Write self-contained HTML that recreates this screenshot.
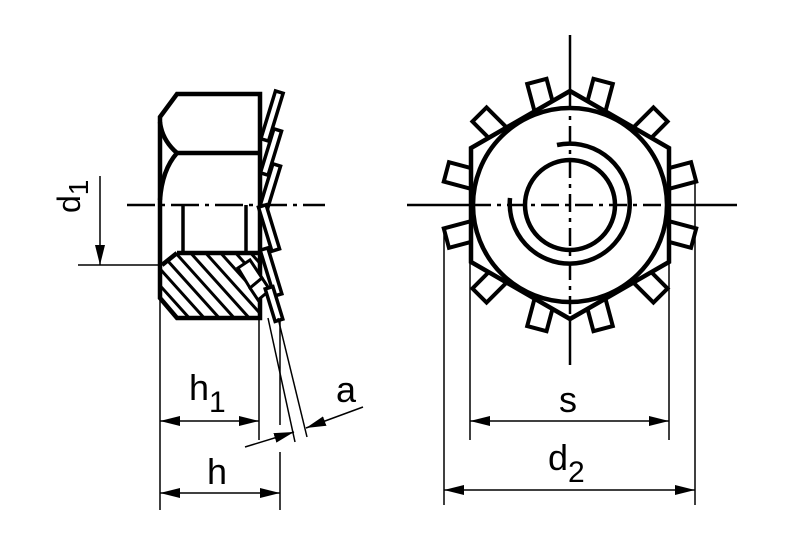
<!DOCTYPE html>
<html><head><meta charset="utf-8"><style>
html,body{margin:0;padding:0;background:#fff;}
svg{display:block;}
text{font-family:"Liberation Sans",sans-serif;fill:#000;}
</style></head><body>
<svg width="791" height="533" viewBox="0 0 791 533" xmlns="http://www.w3.org/2000/svg">
<defs>
<marker id="ar" markerWidth="20" markerHeight="10" refX="20" refY="5" orient="auto" markerUnits="userSpaceOnUse">
<path d="M0,0 L20,5 L0,10 Z" fill="#000"/></marker>
<clipPath id="sec"><path d="M177,253 L255,253 L260,258 L260,318 L177,318 L160,300 L160,265 Z"/></clipPath>
</defs>

<!-- LEFT VIEW -->
<g fill="none" stroke="#000" stroke-width="4.5" stroke-linejoin="miter">
<path d="M160,117 L177,94 L260,94 L260,318 L177,318 L160,298 Z"/>
<line x1="177" y1="153" x2="260" y2="153"/>
<path d="M160,122 Q162,140 177,153"/>
<path d="M177,153 Q162,170 160,200"/>
<line x1="177" y1="253" x2="258" y2="253"/>
<line x1="177" y1="253" x2="162" y2="265"/>
</g>
<g stroke="#000" stroke-width="3.5">
<line x1="183" y1="205" x2="183" y2="253"/>
<line x1="246" y1="205" x2="246" y2="253"/>
</g>
<g clip-path="url(#sec)" stroke="#000" stroke-width="3">
<line x1="140" y1="230" x2="230" y2="330"/>
<line x1="155" y1="230" x2="245" y2="330"/>
<line x1="170" y1="230" x2="260" y2="330"/>
<line x1="185" y1="230" x2="275" y2="330"/>
<line x1="200" y1="230" x2="290" y2="330"/>
<line x1="215" y1="230" x2="305" y2="330"/>
<line x1="230" y1="230" x2="320" y2="330"/>
<line x1="125" y1="230" x2="215" y2="330"/>
<line x1="110" y1="230" x2="200" y2="330"/>
</g>
<g fill="#fff" stroke="#000" stroke-width="3">
<polygon points="238,268 250,260 262,278 250,288"/>
<polygon points="250,288 262,278 270,290 258,300"/>
</g>
<g fill="#fff" stroke="#000" stroke-width="3.5">
<rect x="-4" y="-25" width="8" height="50" transform="translate(272,116) rotate(17)"/>
<rect x="-4" y="-23" width="8" height="46" transform="translate(271,152) rotate(17)"/>
<rect x="-4" y="-23" width="8" height="46" transform="translate(270,187) rotate(17)"/>
<rect x="-4" y="-23" width="8" height="46" transform="translate(269,228) rotate(-17)"/>
<rect x="-4" y="-24" width="8" height="48" transform="translate(271,272) rotate(-17)"/>
<rect x="-4" y="-17" width="8" height="34" transform="translate(274,304) rotate(-17)"/>
</g>
<line x1="127" y1="205" x2="325" y2="205" stroke="#000" stroke-width="2.5" stroke-dasharray="28,6,4,6"/>
<g stroke="#000" stroke-width="1.5">
<line x1="78" y1="265" x2="160" y2="265"/>
<line x1="100" y1="176" x2="100" y2="265" marker-end="url(#ar)"/>
</g>
<text x="0" y="0" font-size="32" transform="translate(80,213) rotate(-90)">d<tspan font-size="28" dy="8">1</tspan></text>

<g stroke="#000" stroke-width="1.5">
<line x1="160" y1="300" x2="160" y2="510"/>
<line x1="259" y1="318" x2="259" y2="440"/>
<line x1="280" y1="320" x2="280" y2="425"/>
<line x1="280" y1="452" x2="280" y2="510"/>
<line x1="268" y1="318" x2="295" y2="442"/>
<line x1="278" y1="318" x2="307" y2="437"/>
<line x1="180" y1="421" x2="160" y2="421" marker-end="url(#ar)"/>
<line x1="180" y1="421" x2="259" y2="421" marker-end="url(#ar)"/>
<line x1="220" y1="493" x2="160" y2="493" marker-end="url(#ar)"/>
<line x1="220" y1="493" x2="280" y2="493" marker-end="url(#ar)"/>
<line x1="245" y1="447" x2="294" y2="432" marker-end="url(#ar)"/>
<line x1="363" y1="407" x2="306" y2="428" marker-end="url(#ar)"/>
</g>
<text x="189" y="400" font-size="36">h<tspan font-size="30" dy="12">1</tspan></text>
<text x="207" y="484" font-size="36">h</text>
<text x="336" y="402" font-size="36">a</text>

<!-- RIGHT VIEW teeth -->
<g fill="#fff" stroke="#000" stroke-width="4">
<g transform="translate(570,205)">
<rect x="-10" y="-128" width="20" height="30" transform="rotate(15)"/>
<rect x="-10" y="-128" width="20" height="30" transform="rotate(45)"/>
<rect x="-10" y="-128" width="20" height="30" transform="rotate(75)"/>
<rect x="-10" y="-128" width="20" height="30" transform="rotate(105)"/>
<rect x="-10" y="-128" width="20" height="30" transform="rotate(135)"/>
<rect x="-10" y="-128" width="20" height="30" transform="rotate(165)"/>
<rect x="-10" y="-128" width="20" height="30" transform="rotate(195)"/>
<rect x="-10" y="-128" width="20" height="30" transform="rotate(225)"/>
<rect x="-10" y="-128" width="20" height="30" transform="rotate(255)"/>
<rect x="-10" y="-128" width="20" height="30" transform="rotate(285)"/>
<rect x="-10" y="-128" width="20" height="30" transform="rotate(315)"/>
<rect x="-10" y="-128" width="20" height="30" transform="rotate(345)"/>
</g>
</g>
<g fill="#fff" stroke="#000" stroke-width="4.5">
<polygon points="570,91 669,148 669,262 570,319 471,262 471,148"/>
<circle cx="570" cy="205" r="97"/>
<circle cx="570" cy="205" r="45" fill="none"/>
<path d="M557,145 A60,60 0 1 1 510,198" fill="none"/>
</g>
<g stroke="#000" stroke-width="2.5">
<line x1="407" y1="205" x2="470" y2="205"/>
<line x1="670" y1="205" x2="737" y2="205"/>
<line x1="473" y1="205" x2="667" y2="205" stroke-dasharray="18,6,4,6"/>
<line x1="570" y1="35" x2="570" y2="92"/>
<line x1="570" y1="318" x2="570" y2="365"/>
<line x1="570" y1="92" x2="570" y2="318" stroke-dasharray="18,6,4,6"/>
</g>
<g stroke="#000" stroke-width="1.5">
<line x1="470" y1="262" x2="470" y2="440"/>
<line x1="669" y1="262" x2="669" y2="440"/>
<line x1="444" y1="232" x2="444" y2="505"/>
<line x1="695" y1="180" x2="695" y2="505"/>
<line x1="570" y1="421" x2="470" y2="421" marker-end="url(#ar)"/>
<line x1="570" y1="421" x2="669" y2="421" marker-end="url(#ar)"/>
<line x1="570" y1="490" x2="444" y2="490" marker-end="url(#ar)"/>
<line x1="570" y1="490" x2="695" y2="490" marker-end="url(#ar)"/>
</g>
<text x="559" y="412" font-size="36">s</text>
<text x="548" y="470" font-size="36">d<tspan font-size="30" dy="12">2</tspan></text>
</svg>
</body></html>
